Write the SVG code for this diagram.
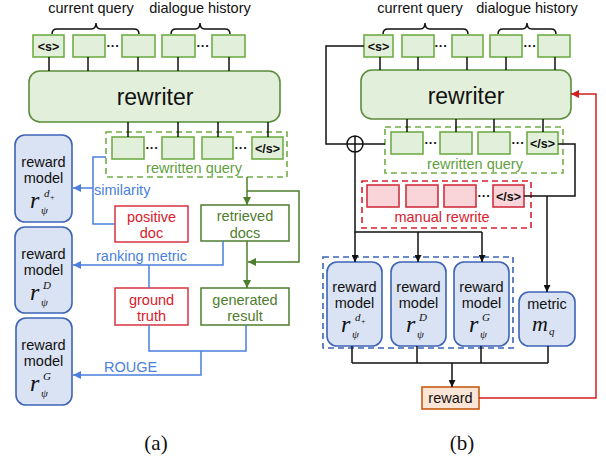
<svg xmlns="http://www.w3.org/2000/svg" width="606" height="464" viewBox="0 0 606 464">
<defs>
<style>
text{font-family:"Liberation Sans",Arial,sans-serif;}
.lbl{font-size:14.5px;fill:#111;text-anchor:middle;}
.tok{fill:#e2efda;stroke:#70ad47;stroke-width:1.6;}
.tokr{fill:#f9d5d9;stroke:#d0303f;stroke-width:1.6;}
.tt{font-size:12.5px;font-weight:bold;fill:#111;text-anchor:middle;}
.dots{font-size:13px;font-weight:bold;fill:#111;text-anchor:middle;}
.rw{fill:#e2efda;stroke:#5b8c3a;stroke-width:1.6;}
.rwt{font-size:23px;fill:#111;text-anchor:middle;}
.dg{fill:none;stroke:#70ad47;stroke-width:1.6;stroke-dasharray:6,4;}
.dr{fill:none;stroke:#d9202c;stroke-width:1.6;stroke-dasharray:6,4;}
.db{fill:none;stroke:#3d64b5;stroke-width:1.6;stroke-dasharray:6,4;}
.rm{fill:#dae3f3;stroke:#3d64b5;stroke-width:1.6;}
.math{font-family:"Liberation Serif","Times New Roman",serif;font-style:italic;fill:#111;}
.kb{fill:none;stroke:#111;stroke-width:1.5;}
.bl{fill:none;stroke:#4a7fdc;stroke-width:1.5;}
.gn{fill:none;stroke:#4e7d2e;stroke-width:1.5;}
.rd{fill:none;stroke:#d02020;stroke-width:1.5;}
.redbox{fill:#fff;stroke:#d9333f;stroke-width:1.5;}
.grnbox{fill:#fff;stroke:#4e7d2e;stroke-width:1.5;}
.redt{font-size:14.5px;fill:#d9202c;text-anchor:middle;}
.grnt{font-size:14.5px;fill:#4e7d2e;text-anchor:middle;}
.rqt{font-size:14.5px;fill:#5f9f3f;text-anchor:middle;}
.blt{font-size:14.5px;fill:#4a7fdc;}
.cap{font-family:"Liberation Serif","Times New Roman",serif;font-size:21px;fill:#111;text-anchor:middle;}
</style>
<marker id="ak" viewBox="0 0 10 10" refX="10" refY="5" markerWidth="7" markerHeight="7" orient="auto" markerUnits="userSpaceOnUse"><path d="M0,0 L10,5 L0,10 z" fill="#111"/></marker>
<marker id="ab" viewBox="0 0 10 10" refX="10" refY="5" markerWidth="8" markerHeight="8" orient="auto" markerUnits="userSpaceOnUse"><path d="M0,0 L10,5 L0,10 z" fill="#4a7fdc"/></marker>
<marker id="ag" viewBox="0 0 10 10" refX="10" refY="5" markerWidth="8" markerHeight="8" orient="auto" markerUnits="userSpaceOnUse"><path d="M0,0 L10,5 L0,10 z" fill="#4e7d2e"/></marker>
<marker id="ar" viewBox="0 0 10 10" refX="10" refY="5" markerWidth="8" markerHeight="8" orient="auto" markerUnits="userSpaceOnUse"><path d="M0,0 L10,5 L0,10 z" fill="#d02020"/></marker>
</defs>
<rect width="606" height="464" fill="#fff"/>

<!-- ========== Panel (a) ========== -->
<g id="a-input">
<text class="lbl" x="91" y="13">current query</text>
<text class="lbl" x="200" y="13">dialogue history</text>
<path class="kb" stroke-width="1.3" d="M52,34 Q52,29 57,29 L91,29 Q96,29 96,23 Q96,29 101,29 L134,29 Q139,29 139,34"/>
<path class="kb" stroke-width="1.3" d="M171,34 Q171,29 176,29 L195,29 Q200,29 200,23 Q200,29 205,29 L225,29 Q230,29 230,34"/>
<rect class="tok" x="33" y="35" width="31" height="22"/><text class="tt" x="48.5" y="50.5">&lt;s&gt;</text>
<rect class="tok" x="73" y="35" width="32" height="22"/>
<text class="dots" x="113" y="50">···</text>
<rect class="tok" x="122" y="35" width="33" height="22"/>
<rect class="tok" x="162" y="35" width="33" height="22"/>
<text class="dots" x="203" y="50">···</text>
<rect class="tok" x="212" y="35" width="33" height="22"/>
</g>
<g id="a-rewriter">
<rect class="rw" x="29" y="71" width="251" height="51" rx="11"/>
<text class="rwt" x="155" y="105">rewriter</text>
</g>
<g id="a-rewritten">
<rect class="dg" x="106" y="132" width="181" height="45"/>
<rect class="tok" x="112" y="137" width="32" height="22"/>
<text class="dots" x="152" y="152">···</text>
<rect class="tok" x="162" y="137" width="32" height="22"/>
<rect class="tok" x="202" y="137" width="31" height="22"/>
<text class="dots" x="241" y="152">···</text>
<rect class="tok" x="252" y="137" width="31" height="22"/><text class="tt" x="267.5" y="152.5">&lt;/s&gt;</text>
<text class="rqt" x="194" y="173">rewritten query</text>
</g>
<g id="a-rm1">
<rect class="rm" x="15" y="135" width="57" height="87" rx="10"/>
<text class="lbl" x="43.5" y="167">reward</text>
<text class="lbl" x="43.5" y="183">model</text>
<text class="math"><tspan x="30" y="208" font-size="24">r</tspan><tspan x="41" y="214" font-size="11">ψ</tspan><tspan x="44" y="197" font-size="11">d</tspan><tspan x="50" y="199.5" font-size="8" font-style="normal">+</tspan></text>
</g>
<g id="a-rm2">
<rect class="rm" x="15" y="227" width="57" height="86" rx="10"/>
<text class="lbl" x="43.5" y="259">reward</text>
<text class="lbl" x="43.5" y="275">model</text>
<text class="math"><tspan x="30" y="300" font-size="24">r</tspan><tspan x="41" y="306" font-size="11">ψ</tspan><tspan x="43" y="289" font-size="11">D</tspan></text>
</g>
<g id="a-rm3">
<rect class="rm" x="16" y="318" width="56" height="87" rx="10"/>
<text class="lbl" x="43.5" y="350">reward</text>
<text class="lbl" x="43.5" y="366">model</text>
<text class="math"><tspan x="30" y="391" font-size="24">r</tspan><tspan x="41" y="397" font-size="11">ψ</tspan><tspan x="43" y="380" font-size="11">G</tspan></text>
</g>
<g id="a-posdoc">
<rect class="redbox" x="115" y="206" width="73" height="36"/>
<text class="redt" x="151.5" y="222">positive</text>
<text class="redt" x="151.5" y="238">doc</text>
</g>
<g id="a-retdocs">
<rect class="grnbox" x="201" y="205" width="88" height="36"/>
<text class="grnt" x="245" y="221">retrieved</text>
<text class="grnt" x="245" y="238">docs</text>
</g>
<g id="a-gt">
<rect class="redbox" x="115" y="288" width="73" height="37"/>
<text class="redt" x="151.5" y="305">ground</text>
<text class="redt" x="151.5" y="321">truth</text>
</g>
<g id="a-gen">
<rect class="grnbox" x="201" y="288" width="88" height="37"/>
<text class="grnt" x="245" y="305">generated</text>
<text class="grnt" x="245" y="321">result</text>
</g>
<g id="a-connectors">
<path class="kb" d="M49,57V71 M88,57V71 M138,57V71 M178,57V71 M229,57V71"/>
<path class="kb" d="M128,122V137 M178,122V137 M218,122V137 M268,122V137"/>
<path class="bl" d="M106,157H93V224H115"/>
<path class="bl" d="M93,188H73" marker-end="url(#ab)"/>
<path class="bl" d="M223,241V265H73" marker-end="url(#ab)"/>
<path class="bl" d="M149,265V288"/>
<path class="bl" d="M149,325V351H246V325"/>
<path class="bl" d="M201,351V375H73" marker-end="url(#ab)"/>
<path class="gn" d="M247,177V205" marker-end="url(#ag)"/>
<path class="gn" d="M247,191H299V262H248" marker-end="url(#ag)"/>
<path class="gn" d="M247,241V288" marker-end="url(#ag)"/>
<text class="blt" x="94" y="195">similarity</text>
<text class="blt" x="96" y="261">ranking metric</text>
<text class="blt" x="104" y="372">ROUGE</text>
</g>
<text class="cap" x="156" y="450">(a)</text>

<!-- ========== Panel (b) ========== -->
<g id="b-input">
<text class="lbl" x="420" y="13">current query</text>
<text class="lbl" x="527" y="13">dialogue history</text>
<path class="kb" stroke-width="1.3" d="M383,34 Q383,29 388,29 L420,29 Q425,29 425,23 Q425,29 430,29 L463,29 Q468,29 468,34"/>
<path class="kb" stroke-width="1.3" d="M498,34 Q498,29 503,29 L522,29 Q527,29 527,23 Q527,29 532,29 L551,29 Q556,29 556,34"/>
<rect class="tok" x="364" y="35" width="29" height="22"/><text class="tt" x="378.5" y="50.5">&lt;s&gt;</text>
<rect class="tok" x="402" y="35" width="32" height="22"/>
<text class="dots" x="441" y="50">···</text>
<rect class="tok" x="452" y="35" width="31" height="22"/>
<rect class="tok" x="490" y="35" width="32" height="22"/>
<text class="dots" x="530" y="50">···</text>
<rect class="tok" x="538" y="35" width="32" height="22"/>
</g>
<g id="b-rewriter">
<rect class="rw" x="361" y="70" width="210" height="49" rx="11"/>
<text class="rwt" x="466" y="104">rewriter</text>
</g>
<g id="b-rewritten">
<rect class="dg" x="385" y="127" width="178" height="46"/>
<rect class="tok" x="391" y="132" width="32" height="22"/>
<text class="dots" x="431" y="147">···</text>
<rect class="tok" x="440" y="132" width="32" height="22"/>
<rect class="tok" x="478" y="132" width="32" height="22"/>
<text class="dots" x="518" y="147">···</text>
<rect class="tok" x="527" y="132" width="31" height="22"/><text class="tt" x="542.5" y="147.5">&lt;/s&gt;</text>
<text class="rqt" x="475" y="169">rewritten query</text>
</g>
<g id="b-manual">
<rect class="dr" x="362" y="181" width="169" height="47"/>
<rect class="tokr" x="367" y="185" width="32" height="22"/>
<rect class="tokr" x="406" y="185" width="32" height="22"/>
<rect class="tokr" x="444" y="185" width="32" height="22"/>
<text class="dots" x="484" y="200">···</text>
<rect class="tokr" x="493" y="185" width="31" height="22"/><text class="tt" x="508.5" y="200.5">&lt;/s&gt;</text>
<text class="redt" x="442" y="222">manual rewrite</text>
</g>
<g id="b-rms">
<rect class="db" x="323" y="257" width="190" height="91"/>
</g>
<g id="b-rm1">
<rect class="rm" x="327" y="262" width="55" height="84" rx="10"/>
<text class="lbl" x="354.5" y="292">reward</text>
<text class="lbl" x="354.5" y="308">model</text>
<text class="math"><tspan x="341" y="332" font-size="24">r</tspan><tspan x="352" y="338" font-size="11">ψ</tspan><tspan x="355" y="321" font-size="11">d</tspan><tspan x="361" y="323.5" font-size="8" font-style="normal">+</tspan></text>
</g>
<g id="b-rm2">
<rect class="rm" x="391" y="262" width="55" height="84" rx="10"/>
<text class="lbl" x="418.5" y="292">reward</text>
<text class="lbl" x="418.5" y="308">model</text>
<text class="math"><tspan x="406" y="332" font-size="24">r</tspan><tspan x="417" y="338" font-size="11">ψ</tspan><tspan x="419" y="321" font-size="11">D</tspan></text>
</g>
<g id="b-rm3">
<rect class="rm" x="454" y="262" width="55" height="84" rx="10"/>
<text class="lbl" x="481.5" y="292">reward</text>
<text class="lbl" x="481.5" y="308">model</text>
<text class="math"><tspan x="469" y="332" font-size="24">r</tspan><tspan x="480" y="338" font-size="11">ψ</tspan><tspan x="482" y="321" font-size="11">G</tspan></text>
</g>
<g id="b-metric">
<rect class="rm" x="519" y="292" width="56" height="54" rx="10"/>
<text class="lbl" x="547" y="309">metric</text>
<text class="math"><tspan x="532" y="331" font-size="22">m</tspan><tspan x="549" y="335" font-size="11">q</tspan></text>
</g>
<g id="b-reward">
<rect x="422" y="387" width="57" height="22" fill="#fbe5d6" stroke="#c55a11" stroke-width="1.6"/>
<text class="lbl" x="450.5" y="403">reward</text>
</g>
<g id="b-connectors">
<path class="kb" d="M380,57V70 M418,57V70 M467,57V70 M506,57V70 M555,57V70"/>
<path class="kb" d="M407,119V132 M456,119V132 M494,119V132 M543,119V132"/>
<path class="kb" d="M364,46H326V144H347 M363,144H385"/>
<circle cx="355" cy="144" r="8" fill="#fff" stroke="#111" stroke-width="1.5"/>
<path class="kb" d="M347,144H363 M355,136V152"/>
<path class="kb" d="M355,152V232H482"/>
<path class="kb" d="M355,232V262" marker-end="url(#ak)"/>
<path class="kb" d="M418,232V262" marker-end="url(#ak)"/>
<path class="kb" d="M482,232V262" marker-end="url(#ak)"/>
<path class="kb" d="M558,144H575V196H524"/>
<path class="kb" d="M547,196V292" marker-end="url(#ak)"/>
<path class="kb" d="M352,346V363 M417,346V363 M481,346V363 M548,346V363 M352,363H548"/>
<path class="kb" d="M452,363V387" marker-end="url(#ak)"/>
<path class="rd" d="M479,398H596V94H571" marker-end="url(#ar)"/>
</g>
<text class="cap" x="462" y="450">(b)</text>
</svg>
